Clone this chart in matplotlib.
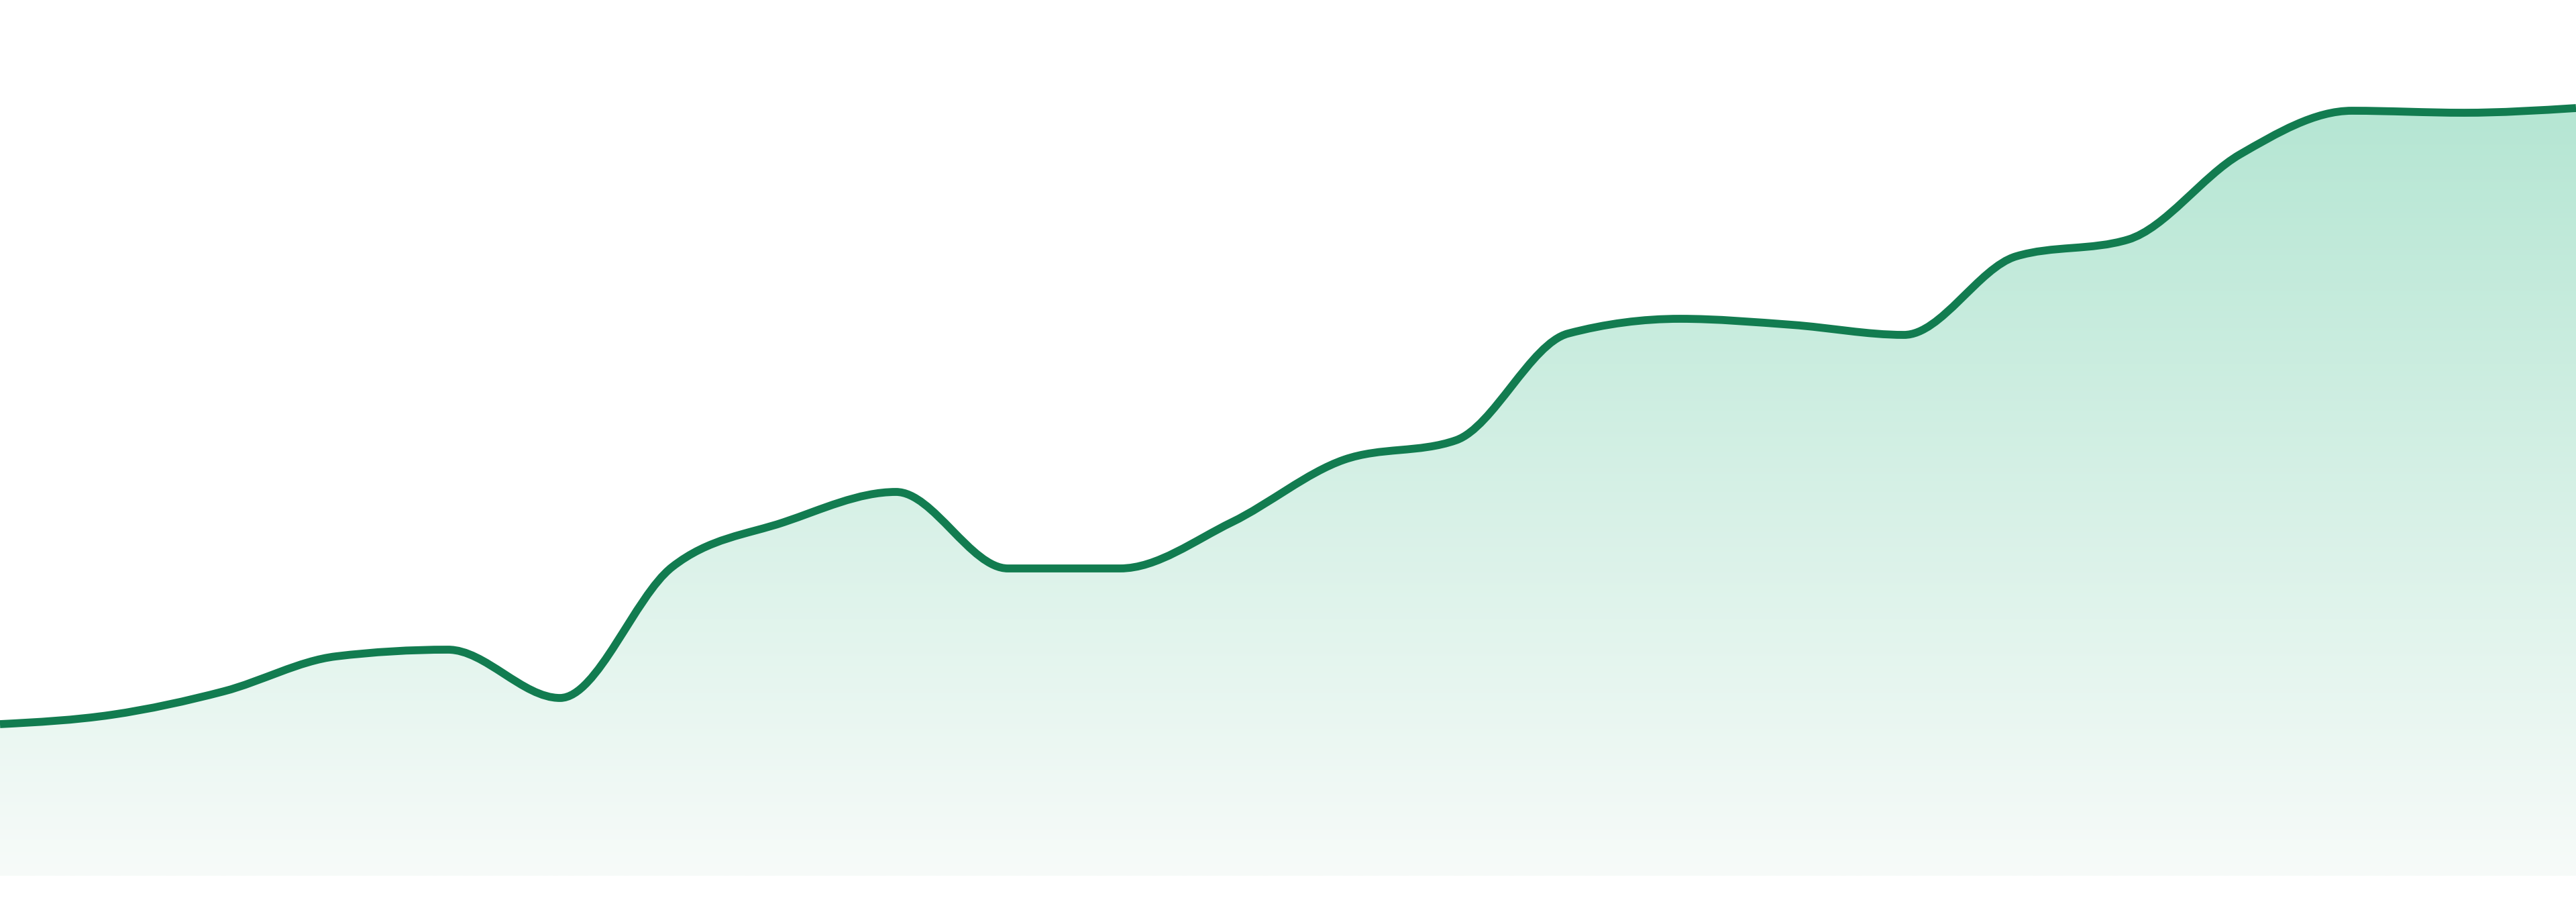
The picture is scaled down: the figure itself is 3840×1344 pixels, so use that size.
import numpy as np
import matplotlib
matplotlib.use("Agg")
import matplotlib.pyplot as plt
from matplotlib.path import Path
from matplotlib.patches import PathPatch

# values, one per evenly spaced step
steps = list(range(24))
values = [22.6, 24.0, 27.5, 32.7, 33.7, 26.5, 46.0, 52.7, 57.2, 45.8, 45.8, 52.7,
          62.0, 64.9, 80.8, 83.0, 82.1, 80.6, 92.3, 94.8, 107.5, 114.0, 113.7, 114.4]

line_color = "#127c50"
fill_top = np.array([181, 230, 211]) / 255
fill_bottom = np.array([247, 251, 249]) / 255


def monotone_tangents(x, y):
    # same rule as d3.curveMonotoneX
    n = len(x)
    t = np.zeros(n)
    for i in range(1, n - 1):
        h0 = x[i] - x[i - 1]
        h1 = x[i + 1] - x[i]
        s0 = (y[i] - y[i - 1]) / h0
        s1 = (y[i + 1] - y[i]) / h1
        p = (s0 * h1 + s1 * h0) / (h0 + h1)
        t[i] = (np.sign(s0) + np.sign(s1)) * min(abs(s0), abs(s1), 0.5 * abs(p))
    h = x[1] - x[0]
    t[0] = (3 * (y[1] - y[0]) / h - t[1]) / 2
    h = x[-1] - x[-2]
    t[-1] = (3 * (y[-1] - y[-2]) / h - t[-2]) / 2
    return t


def curve_vertices(x, y):
    t = monotone_tangents(x, y)
    verts = [(x[0], y[0])]
    codes = [Path.MOVETO]
    for i in range(len(x) - 1):
        dx = (x[i + 1] - x[i]) / 3
        verts += [(x[i] + dx, y[i] + dx * t[i]),
                  (x[i + 1] - dx, y[i + 1] - dx * t[i + 1]),
                  (x[i + 1], y[i + 1])]
        codes += [Path.CURVE4] * 3
    return verts, codes


x = np.array(steps, dtype=float)
y = np.array(values, dtype=float)

fig = plt.figure(figsize=(38.4, 13.44), dpi=100)
ax = fig.add_axes([0, 39 / 1344, 1, 1305 / 1344])
ax.axis("off")

verts, codes = curve_vertices(x, y)

# area below the curve, filled with a vertical gradient
area_verts = verts + [(x[-1], 0), (x[0], 0), (x[0], y[0])]
area_codes = codes + [Path.LINETO, Path.LINETO, Path.CLOSEPOLY]
area = PathPatch(Path(area_verts, area_codes), facecolor="none", edgecolor="none")
ax.add_patch(area)

top = y.max()
frac = np.linspace(0, 1, 512)[:, None]
grad = fill_bottom + (fill_top - fill_bottom) * frac
img = ax.imshow(grad[:, None, :].repeat(2, axis=1), extent=[x[0], x[-1], 0, top],
                origin="lower", aspect="auto", interpolation="bilinear", zorder=1)
img.set_clip_path(area)

line = PathPatch(Path(verts, codes), facecolor="none", edgecolor=line_color,
                 linewidth=8.5, joinstyle="round", capstyle="butt", zorder=2)
ax.add_patch(line)

ax.set_xlim(x[0], x[-1])
ax.set_ylim(0, 130.5)

fig.savefig("out.png", dpi=100, facecolor="white")
